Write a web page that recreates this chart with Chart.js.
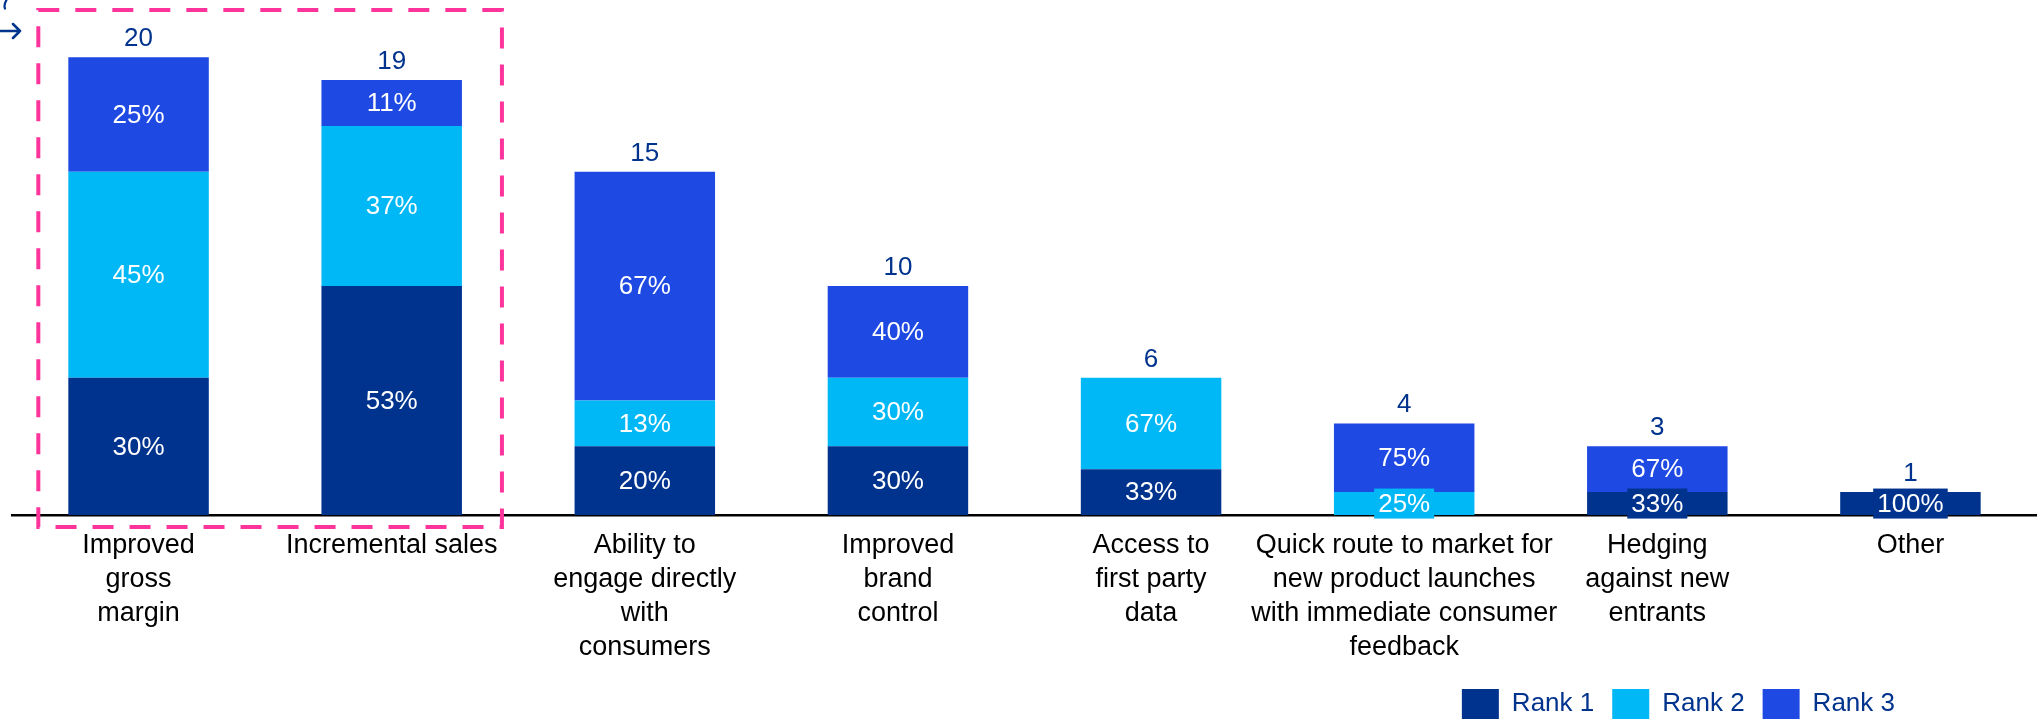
<!DOCTYPE html>
<html>
<head>
<meta charset="utf-8">
<script src="https://cdn.jsdelivr.net/npm/chart.js@4/dist/chart.umd.min.js"></script>
<style>
  html, body { margin: 0; padding: 0; background: #fff; }
  #wrap { position: relative; width: 2037px; height: 721px; }
</style>
</head>
<body>
<div id="wrap"><canvas id="chart"></canvas></div>
<script>
// Benefit categories, number of respondents by rank
const categories = [
  ['Improved', 'gross', 'margin'],
  'Incremental sales',
  ['Ability to', 'engage directly', 'with', 'consumers'],
  ['Improved', 'brand', 'control'],
  ['Access to', 'first party', 'data'],
  ['Quick route to market for', 'new product launches', 'with immediate consumer', 'feedback'],
  ['Hedging', 'against new', 'entrants'],
  'Other'
];
const rank1 = [6, 10, 3, 3, 2, 0, 1, 1];
const rank2 = [9, 7, 2, 3, 4, 1, 0, 0];
const rank3 = [5, 2, 10, 4, 0, 3, 2, 0];
const seriesNames = ['Rank 1', 'Rank 2', 'Rank 3'];

const NAVY = '#00338D';
const CYAN = '#00B8F5';
const COBALT = '#1E49E2';
const PINK = '#FD349C';
const FONT = 'Arial, "Liberation Sans", sans-serif';

const totals = categories.map((_, i) => rank1[i] + rank2[i] + rank3[i]);

// percentage labels inside each segment, plus the total above each bar
const barLabels = {
  id: 'barLabels',
  afterDatasetsDraw(chart) {
    const { ctx } = chart;
    ctx.save();
    ctx.font = '26px ' + FONT;
    ctx.textAlign = 'center';
    ctx.textBaseline = 'middle';
    chart.data.datasets.forEach((ds, di) => {
      const meta = chart.getDatasetMeta(di);
      meta.data.forEach((bar, i) => {
        const v = ds.data[i];
        if (!v) return;
        const pct = Math.round(v / totals[i] * 100) + '%';
        const cy = (bar.y + bar.base) / 2;
        const w = ctx.measureText(pct).width + 8;
        ctx.fillStyle = ds.backgroundColor;
        ctx.fillRect(bar.x - w / 2, cy - 15, w, 30);
        ctx.fillStyle = '#fff';
        ctx.fillText(pct, bar.x, cy + 1);
      });
    });
    // totals sit on top of the last stacked segment
    const topMeta = chart.getDatasetMeta(chart.data.datasets.length - 1);
    ctx.fillStyle = NAVY;
    ctx.textBaseline = 'alphabetic';
    topMeta.data.forEach((bar, i) => {
      ctx.fillText(String(totals[i]), bar.x, bar.y - 11);
    });
    ctx.restore();
  }
};

// dashed highlight around the two leading benefits, and the corner arrow
const highlight = {
  id: 'highlight',
  afterDraw(chart) {
    const { ctx, chartArea } = chart;
    const bars = chart.getDatasetMeta(0).data;
    const left = bars[0].x - bars[0].width / 2 - 30;
    const right = bars[1].x + bars[1].width / 2 + 40;
    const top = 10;
    const bottom = chartArea.bottom + 12;
    ctx.save();
    ctx.strokeStyle = PINK;
    ctx.lineWidth = 4;
    ctx.setLineDash([21, 16]);
    ctx.strokeRect(left, top, right - left, bottom - top);
    ctx.setLineDash([]);

    ctx.strokeStyle = NAVY;
    ctx.lineWidth = 2.5;
    ctx.lineCap = 'round';
    ctx.lineJoin = 'round';
    ctx.beginPath();
    ctx.moveTo(0, 31);
    ctx.lineTo(20, 31);
    ctx.moveTo(13, 24);
    ctx.lineTo(20, 31);
    ctx.lineTo(13, 38);
    ctx.stroke();

    // tail of a glyph cut by the top edge
    ctx.lineWidth = 2.2;
    ctx.beginPath();
    ctx.moveTo(6.5, 0);
    ctx.quadraticCurveTo(3.5, 5, 5, 8.5);
    ctx.stroke();
    ctx.restore();
  }
};

// move the legend to the lower right without shrinking the plot
const legendPlacer = {
  id: 'legendPlacer',
  afterLayout(chart) {
    const lg = chart.legend;
    const h = lg.bottom - lg.top;
    lg.right = 1913;
    lg.top = 671;
    lg.bottom = lg.top + h;
  }
};

new Chart(document.getElementById('chart'), {
  type: 'bar',
  data: {
    labels: categories,
    datasets: [
      { label: seriesNames[0], data: rank1, backgroundColor: NAVY },
      { label: seriesNames[1], data: rank2, backgroundColor: CYAN },
      { label: seriesNames[2], data: rank3, backgroundColor: COBALT }
    ]
  },
  options: {
    responsive: true,
    maintainAspectRatio: false,
    animation: false,
    datasets: { bar: { categoryPercentage: 1, barPercentage: 0.555 } },
    layout: { padding: { left: 12, right: 0, top: 0, bottom: 0 } },
    plugins: {
      tooltip: { enabled: false },
      legend: {
        position: 'bottom',
        align: 'end',
        labels: {
          boxWidth: 37,
          boxHeight: 30,
          padding: 18,
          color: NAVY,
          font: { family: FONT, size: 26 }
        }
      }
    },
    scales: {
      x: {
        stacked: true,
        grid: { display: false },
        border: { display: true, color: '#000', width: 2.5 },
        ticks: {
          color: '#000',
          padding: 6,
          maxRotation: 0,
          autoSkip: false,
          font: { family: FONT, size: 27, lineHeight: 1.25 }
        },
        afterFit(scale) { scale.height = 148; }
      },
      y: {
        stacked: true,
        display: false,
        min: 0,
        max: 22.5
      }
    }
  },
  plugins: [barLabels, highlight, legendPlacer]
});
</script>
</body>
</html>
